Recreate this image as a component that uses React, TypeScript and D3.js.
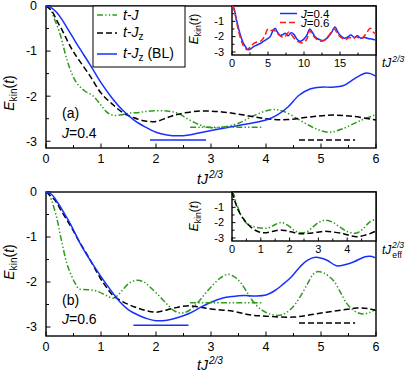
import React from 'react';
import * as d3 from 'd3';

type Pt = [number, number];

// ---- panel (a), J = 0.4 ----
const tjA: Pt[] = [[0,0],[0.08,-0.08],[0.16,-0.31],[0.25,-0.6],[0.38,-1.19],[0.47,-1.5],[0.56,-1.71],[0.7,-1.88],[0.86,-2.0],[1.0,-2.2],[1.1,-2.35],[1.2,-2.42],[1.35,-2.42],[1.5,-2.38],[1.7,-2.36],[1.9,-2.33],[2.2,-2.33],[2.4,-2.38],[2.6,-2.52],[2.8,-2.64],[3.0,-2.7],[3.2,-2.69],[3.5,-2.6],[3.8,-2.42],[4.1,-2.3],[4.3,-2.33],[4.6,-2.52],[4.9,-2.72],[5.15,-2.8],[5.4,-2.72],[5.7,-2.55],[6.0,-2.41]];
const tjzA: Pt[] = [[0,0],[0.1,-0.1],[0.2,-0.33],[0.3,-0.55],[0.4,-0.8],[0.5,-1.02],[0.6,-1.2],[0.8,-1.55],[1.0,-1.93],[1.2,-2.17],[1.4,-2.37],[1.6,-2.48],[1.8,-2.55],[2.0,-2.56],[2.2,-2.48],[2.4,-2.4],[2.8,-2.33],[3.2,-2.35],[3.6,-2.42],[4.0,-2.5],[4.4,-2.52],[4.8,-2.46],[5.2,-2.42],[5.6,-2.45],[6.0,-2.53]];
const blA: Pt[] = [[0,0],[0.1,-0.04],[0.2,-0.15],[0.3,-0.32],[0.4,-0.52],[0.5,-0.72],[0.6,-0.92],[0.8,-1.3],[1.0,-1.7],[1.2,-2.04],[1.4,-2.32],[1.6,-2.53],[1.8,-2.68],[2.0,-2.8],[2.2,-2.86],[2.4,-2.88],[2.6,-2.86],[2.8,-2.81],[3.0,-2.76],[3.5,-2.65],[4.0,-2.53],[4.2,-2.42],[4.4,-2.24],[4.6,-1.98],[4.8,-1.84],[5.0,-1.8],[5.2,-1.8],[5.4,-1.77],[5.6,-1.62],[5.8,-1.49],[5.9,-1.5],[6.0,-1.56]];
// long-time levels: [from, to, value]
const levelsA = { bl: [1.89, 2.91, -2.97], tj: [2.62, 3.95, -2.69], tjz: [4.6, 5.62, -2.97] };

// ---- panel (b), J = 0.6 ----
const tjB: Pt[] = [[0,0],[0.05,-0.05],[0.1,-0.18],[0.19,-0.55],[0.28,-1.07],[0.38,-1.59],[0.46,-1.85],[0.53,-2.03],[0.6,-2.15],[0.75,-2.17],[0.92,-2.2],[1.1,-2.3],[1.22,-2.36],[1.32,-2.28],[1.41,-2.15],[1.52,-2.02],[1.65,-1.96],[1.78,-2.0],[1.89,-2.11],[2.05,-2.3],[2.19,-2.48],[2.32,-2.63],[2.44,-2.69],[2.56,-2.66],[2.68,-2.56],[2.8,-2.4],[2.92,-2.22],[3.04,-2.06],[3.16,-1.92],[3.3,-1.83],[3.42,-1.88],[3.53,-2.0],[3.65,-2.22],[3.77,-2.44],[3.92,-2.62],[4.07,-2.71],[4.25,-2.74],[4.37,-2.68],[4.5,-2.54],[4.62,-2.33],[4.75,-2.05],[4.85,-1.84],[4.93,-1.77],[5.05,-1.8],[5.22,-1.96],[5.35,-2.22],[5.47,-2.48],[5.6,-2.64],[5.75,-2.71],[5.88,-2.68],[6.0,-2.6]];
const tjzB: Pt[] = [[0,0],[0.16,-0.18],[0.27,-0.4],[0.38,-0.62],[0.5,-0.87],[0.59,-1.07],[0.77,-1.44],[0.98,-1.9],[1.1,-2.12],[1.22,-2.3],[1.4,-2.44],[1.6,-2.55],[1.8,-2.63],[2.0,-2.67],[2.2,-2.62],[2.4,-2.56],[2.6,-2.53],[2.8,-2.56],[3.0,-2.6],[3.4,-2.65],[3.7,-2.73],[4.0,-2.76],[4.5,-2.78],[4.8,-2.73],[5.1,-2.67],[5.4,-2.62],[5.65,-2.58],[5.85,-2.59],[6.0,-2.63]];
const blB: Pt[] = [[0,0],[0.1,-0.05],[0.22,-0.25],[0.33,-0.47],[0.44,-0.7],[0.53,-0.92],[0.62,-1.14],[0.8,-1.51],[1.0,-1.88],[1.2,-2.22],[1.35,-2.45],[1.5,-2.62],[1.7,-2.75],[1.85,-2.82],[2.0,-2.86],[2.2,-2.85],[2.4,-2.79],[2.6,-2.7],[2.8,-2.57],[3.0,-2.45],[3.2,-2.36],[3.4,-2.32],[3.6,-2.3],[3.8,-2.31],[4.0,-2.29],[4.15,-2.2],[4.3,-2.06],[4.45,-1.9],[4.62,-1.66],[4.75,-1.52],[4.9,-1.45],[5.1,-1.51],[5.28,-1.64],[5.45,-1.61],[5.6,-1.55],[5.8,-1.44],[5.9,-1.43],[6.0,-1.47]];
const levelsB = { bl: [1.59, 2.59, -2.96], tj: [2.62, 3.95, -2.46], tjz: [4.6, 5.62, -2.91] };

// ---- inset (a): BL, long times ----
const inJ04: Pt[] = [[0,0],[0.2,-0.08],[0.65,-0.94],[1.1,-1.8],[1.5,-2.35],[1.8,-2.6],[2.2,-2.85],[2.6,-2.8],[3.0,-2.65],[3.5,-2.55],[3.9,-2.45],[4.4,-2.3],[4.9,-2.15],[5.3,-2.0],[5.7,-1.6],[6.0,-1.45],[6.3,-1.7],[6.7,-1.92],[7.0,-1.88],[7.4,-1.78],[7.8,-1.95],[8.2,-1.75],[8.6,-1.85],[9.0,-2.15],[9.5,-2.3],[10.0,-2.15],[10.4,-1.9],[10.8,-1.5],[11.2,-1.75],[11.6,-2.05],[12.2,-2.2],[12.7,-2.25],[13.2,-2.1],[13.8,-1.75],[14.3,-1.37],[14.7,-1.7],[15.1,-1.95],[15.6,-2.1],[16.0,-2.05],[16.5,-1.9],[17.0,-2.05],[17.4,-1.95],[17.9,-2.1],[18.4,-2.05],[18.9,-2.12],[19.4,-2.15],[20,-2.23]];
const inJ06: Pt[] = [[0,0],[0.2,-0.1],[0.6,-0.95],[1.0,-1.8],[1.4,-2.4],[1.8,-2.75],[2.1,-2.85],[2.5,-2.7],[3.0,-2.45],[3.5,-2.35],[4.0,-2.3],[4.5,-2.0],[5.0,-1.5],[5.4,-1.6],[5.8,-1.55],[6.2,-1.75],[6.7,-1.95],[7.2,-2.05],[7.6,-1.85],[7.9,-1.7],[8.3,-1.9],[8.8,-2.2],[9.3,-2.35],[9.9,-2.4],[10.4,-2.15],[10.8,-1.6],[11.2,-1.9],[11.7,-2.15],[12.3,-2.3],[12.8,-2.25],[13.5,-1.9],[14.2,-1.5],[14.7,-1.85],[15.3,-2.1],[15.8,-2.2],[16.3,-2.05],[16.8,-2.15],[17.3,-2.0],[17.8,-2.15],[18.3,-2.0],[18.7,-1.75],[19.2,-1.45],[19.6,-1.7],[20,-1.85]];

// ---- inset (b): vs t J_eff^{2/3} ----
const inTj: Pt[] = [[0,0],[0.05,-0.1],[0.16,-0.78],[0.34,-1.62],[0.51,-2.05],[0.74,-2.26],[1.0,-2.35],[1.2,-2.37],[1.35,-2.28],[1.5,-2.12],[1.73,-2.0],[2.0,-2.26],[2.2,-2.55],[2.4,-2.66],[2.6,-2.6],[2.8,-2.3],[3.0,-2.0],[3.25,-1.84],[3.5,-1.98],[3.75,-2.3],[4.0,-2.58],[4.33,-2.68],[4.55,-2.4],[4.79,-1.95],[5.0,-1.77]];
const inTjz: Pt[] = [[0,0],[0.1,-0.6],[0.22,-1.2],[0.39,-1.73],[0.63,-2.25],[0.86,-2.55],[1.05,-2.66],[1.2,-2.66],[1.4,-2.58],[1.65,-2.48],[1.85,-2.52],[2.05,-2.6],[2.36,-2.72],[2.65,-2.7],[2.94,-2.63],[3.2,-2.57],[3.45,-2.6],[3.87,-2.72],[4.1,-2.85],[4.33,-2.93],[4.55,-2.85],[4.79,-2.72],[5.0,-2.55]];

const mainXTicks = [0, 1, 2, 3, 4, 5, 6];
const mainYTicks = [0, -1, -2, -3];
const insetYTicks = [-1, -2, -3];
const insetAXTicks = [0, 5, 10, 15];
const insetBXTicks = [0, 1, 2, 3, 4];

const BLUE = '#1530ff';
const GREEN = '#2e9a1c';
const RED = '#ff1a1a';
const DASH = '6,3';
const DDOT = '6,2.2,1.4,2.2,1.4,2.2';
const FONT = '"Liberation Sans", Arial, sans-serif';

type Sc = d3.ScaleLinear<number, number>;

const pathOf = (x: Sc, y: Sc, pts: Pt[]) =>
  d3.line<Pt>().x(d => x(d[0])).y(d => y(d[1])).curve(d3.curveCatmullRom.alpha(0.5))(pts) || '';

const Ekin = ({ x, y, size }: { x: number; y: number; size: number }) => (
  <text transform={`translate(${x},${y}) rotate(-90)`} textAnchor="middle" fontSize={size} fontFamily={FONT}>
    <tspan fontStyle="italic">E</tspan>
    <tspan fontSize={size * 0.72} dy={size * 0.22}>kin</tspan>
    <tspan dy={-size * 0.22}>(</tspan>
    <tspan fontStyle="italic">t</tspan>
    <tspan>)</tspan>
  </text>
);

const Frame = ({ x, y, xTicks, xMinor, yTicks, yMinor, major, minor, fs, xLabDy, yLabDx, white }: any) => {
  const [x0, x1] = x.range();
  const [y0, y1] = y.range();
  return (
    <g fontFamily={FONT} fontSize={fs}>
      <rect x={x0} y={y1} width={x1 - x0} height={y0 - y1} fill={white ? '#fff' : 'none'} stroke="#000" strokeWidth={1.4} />
      {xMinor.map((t: number) => (
        <line key={'xm' + t} x1={x(t)} x2={x(t)} y1={y0} y2={y0 - minor} stroke="#000" strokeWidth={1} />
      ))}
      {xTicks.map((t: number) => (
        <g key={'x' + t}>
          <line x1={x(t)} x2={x(t)} y1={y0} y2={y0 - major} stroke="#000" strokeWidth={1} />
          <text x={x(t)} y={y0 + xLabDy} textAnchor="middle">{t}</text>
        </g>
      ))}
      {yMinor.map((t: number) => (
        <line key={'ym' + t} x1={x0} x2={x0 + minor} y1={y(t)} y2={y(t)} stroke="#000" strokeWidth={1} />
      ))}
      {yTicks.map((t: number) => (
        <g key={'y' + t}>
          <line x1={x0} x2={x0 + major} y1={y(t)} y2={y(t)} stroke="#000" strokeWidth={1} />
          <text x={x0 - yLabDx} y={y(t)} dy="0.35em" textAnchor="end">{t}</text>
        </g>
      ))}
    </g>
  );
};

const Curve = ({ x, y, pts, color, dash }: any) => (
  <path d={pathOf(x, y, pts)} fill="none" stroke={color} strokeWidth={1.5} strokeDasharray={dash} />
);

const Level = ({ x, y, lv, color, dash }: any) => (
  <line x1={x(lv[0])} x2={x(lv[1])} y1={y(lv[2])} y2={y(lv[2])} stroke={color} strokeWidth={1.5} strokeDasharray={dash} />
);

// t J^{2/3}, or t J_eff^{2/3} with the exponent stacked over the subscript
const XLabel = ({ x, y, size, eff }: { x: number; y: number; size: number; eff?: boolean }) => {
  const s = size * 0.72;
  return (
    <text x={x} y={y} fontSize={size} fontFamily={FONT} fontStyle="italic">
      <tspan>tJ</tspan>
      {eff && <tspan fontStyle="normal" fontSize={s} dx={1} dy={size * 0.3}>eff</tspan>}
      <tspan fontSize={s} dx={eff ? -s * 1.12 : 1} dy={eff ? -size * 0.78 : -size * 0.45}>2/3</tspan>
    </text>
  );
};

const halves = (a: number, b: number, step: number) => d3.range(a, b + 1e-9, step);

export default function App() {
  const x = d3.scaleLinear().domain([0, 6]).range([46, 376]);
  const yA = d3.scaleLinear().domain([-3.15, 0]).range([148, 6]);
  const yB = d3.scaleLinear().domain([-3.2, 0]).range([336, 192]);
  const xIA = d3.scaleLinear().domain([0, 20]).range([232, 376]);
  const yIA = d3.scaleLinear().domain([-3.2, 0]).range([55, 6]);
  const xIB = d3.scaleLinear().domain([0, 5]).range([232, 376]);
  const yIB = d3.scaleLinear().domain([-3.2, 0]).range([241, 192]);

  const mainFrame = { xTicks: mainXTicks, xMinor: halves(0.5, 5.5, 1), yTicks: mainYTicks, major: 4.5, minor: 3, fs: 12.5, xLabDy: 15, yLabDx: 9 };

  return (
    <svg width={407} height={373} style={{ position: 'absolute', left: 0, top: 0, background: '#fff' }}>
      {/* panel (a) */}
      <Frame x={x} y={yA} yMinor={halves(-2.5, -0.5, 1)} {...mainFrame} />
      <Curve x={x} y={yA} pts={tjA} color={GREEN} dash={DDOT} />
      <Curve x={x} y={yA} pts={tjzA} color="#000" dash={DASH} />
      <Curve x={x} y={yA} pts={blA} color={BLUE} />
      <Level x={x} y={yA} lv={levelsA.tj} color={GREEN} dash={DDOT} />
      <Level x={x} y={yA} lv={levelsA.tjz} color="#000" dash={DASH} />
      <Level x={x} y={yA} lv={levelsA.bl} color={BLUE} />
      <text x={62} y={118} fontSize={14} fontFamily={FONT}>(a)</text>
      <text x={62} y={138} fontSize={14} fontFamily={FONT}><tspan fontStyle="italic">J</tspan>=0.4</text>
      <Ekin x={14} y={93} size={14} />
      <XLabel x={197} y={184} size={14} />

      {/* legend */}
      <g fontFamily={FONT} fontSize={14}>
        <rect x={93} y={6} width={92} height={61} fill="#fff" stroke="#000" strokeWidth={1} />
        <line x1={97} x2={117} y1={15} y2={15} stroke={GREEN} strokeWidth={1.5} strokeDasharray={DDOT} />
        <text x={123} y={20}><tspan fontStyle="italic">t</tspan>-<tspan fontStyle="italic">J</tspan></text>
        <line x1={97} x2={117} y1={33} y2={33} stroke="#000" strokeWidth={1.5} strokeDasharray={DASH} />
        <text x={123} y={37}><tspan fontStyle="italic">t</tspan>-<tspan fontStyle="italic">J</tspan><tspan fontSize={10} dy={3}>z</tspan></text>
        <line x1={97} x2={117} y1={54} y2={54} stroke={BLUE} strokeWidth={1.5} />
        <text x={123} y={58}><tspan fontStyle="italic">t</tspan>-<tspan fontStyle="italic">J</tspan><tspan fontSize={10} dy={3}>z</tspan><tspan dy={-3}> (BL)</tspan></text>
      </g>

      {/* inset (a) */}
      <Frame x={xIA} y={yIA} white xTicks={insetAXTicks} xMinor={[2.5, 7.5, 12.5, 17.5]} yTicks={insetYTicks} yMinor={[-0.5, -1.5, -2.5]} major={3.5} minor={2.5} fs={11} xLabDy={12} yLabDx={8} />
      <Curve x={xIA} y={yIA} pts={inJ04} color={BLUE} />
      <Curve x={xIA} y={yIA} pts={inJ06} color={RED} dash={DASH} />
      <g fontFamily={FONT} fontSize={11.5}>
        <line x1={280} x2={297} y1={13.5} y2={13.5} stroke={BLUE} strokeWidth={1.5} />
        <text x={301} y={17.5}><tspan fontStyle="italic">J</tspan>=0.4</text>
        <line x1={280} x2={297} y1={22.5} y2={22.5} stroke={RED} strokeWidth={1.5} strokeDasharray={DASH} />
        <text x={301} y={26.5}><tspan fontStyle="italic">J</tspan>=0.6</text>
      </g>
      <Ekin x={198} y={29} size={12} />
      <XLabel x={382} y={67} size={12} />

      {/* panel (b) */}
      <Frame x={x} y={yB} yMinor={halves(-2.5, -0.5, 1)} {...mainFrame} />
      <Curve x={x} y={yB} pts={tjB} color={GREEN} dash={DDOT} />
      <Curve x={x} y={yB} pts={tjzB} color="#000" dash={DASH} />
      <Curve x={x} y={yB} pts={blB} color={BLUE} />
      <Level x={x} y={yB} lv={levelsB.tj} color={GREEN} dash={DDOT} />
      <Level x={x} y={yB} lv={levelsB.tjz} color="#000" dash={DASH} />
      <Level x={x} y={yB} lv={levelsB.bl} color={BLUE} />
      <text x={62} y={305} fontSize={14} fontFamily={FONT}>(b)</text>
      <text x={62} y={324} fontSize={14} fontFamily={FONT}><tspan fontStyle="italic">J</tspan>=0.6</text>
      <Ekin x={14} y={262} size={14} />
      <XLabel x={197} y={370} size={14} />

      {/* inset (b) */}
      <Frame x={xIB} y={yIB} white xTicks={insetBXTicks} xMinor={[0.5, 1.5, 2.5, 3.5, 4.5]} yTicks={insetYTicks} yMinor={[-0.5, -1.5, -2.5]} major={3.5} minor={2.5} fs={11} xLabDy={12} yLabDx={8} />
      <Curve x={xIB} y={yIB} pts={inTj} color={GREEN} dash={DDOT} />
      <Curve x={xIB} y={yIB} pts={inTjz} color="#000" dash={DASH} />
      <Ekin x={198} y={216} size={12} />
      <XLabel x={382} y={254} size={12} eff />
    </svg>
  );
}
